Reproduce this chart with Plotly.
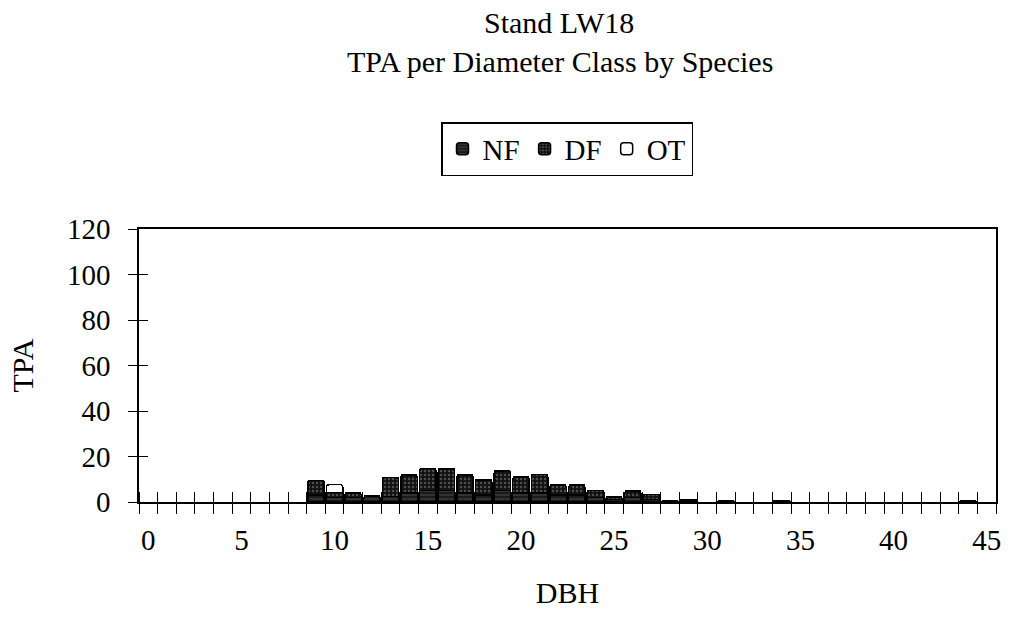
import plotly.graph_objects as go

# Diameter classes (inches) and trees per acre by species
dbh = [9, 10, 11, 12, 13, 14, 15, 16, 17, 18, 19, 20, 21, 22, 23, 24, 25, 26, 27, 28, 29, 31, 34, 44]
nf = [3.0, 2.0, 2.0, 2.6, 2.5, 4.0, 5.0, 5.0, 4.0, 3.0, 5.0, 4.0, 4.0, 3.0, 3.0, 2.0, 1.0, 2.0, 1.0, 0.6, 0.0, 0.6, 0.0, 0.6]
df = [6.5, 2.2, 2.0, 0.0, 8.2, 7.8, 9.8, 9.4, 7.8, 6.6, 8.7, 7.1, 8.2, 4.4, 4.4, 3.1, 1.2, 2.8, 2.4, 0.0, 0.8, 0.0, 0.6, 0.0]
ot = [0.0, 3.5, 0, 0, 0, 0, 0, 0, 0, 0, 0, 0, 0, 0, 0, 0, 0, 0, 0, 0, 0, 0, 0, 0]

x_labels = list(range(0, 46, 5))
y_ticks = list(range(0, 121, 20))
n_classes = 46

FONT = "Liberation Serif, Times New Roman, serif"

fig = go.Figure()

fig.add_trace(go.Bar(
    x=dbh, y=nf, name="NF", width=0.88,
    marker=dict(color="#1a1a1a", line=dict(color="black", width=1.5),
                pattern=dict(shape="-", fgcolor="#7a7a7a", size=4, solidity=0.25)),
))
fig.add_trace(go.Bar(
    x=dbh, y=df, name="DF", width=0.88,
    marker=dict(color="#111111", line=dict(color="black", width=1.5),
                pattern=dict(shape=".", fgcolor="#8a8a8a", size=4, solidity=0.3)),
))
fig.add_trace(go.Bar(
    x=dbh, y=ot, name="OT", width=0.88,
    marker=dict(color="white", line=dict(color="black", width=1.5)),
))

# empty trace so the overlay axes (inner half of the crossing ticks) are drawn
fig.add_trace(go.Scatter(x=[], y=[], xaxis="x2", yaxis="y2", showlegend=False))

boundaries = [k - 0.5 for k in range(n_classes + 1)]

fig.update_layout(
    width=1010, height=619,
    paper_bgcolor="white", plot_bgcolor="white",
    barmode="stack", barcornerradius=3,
    font=dict(family=FONT, size=29, color="black"),
    margin=dict(l=139, r=9, t=229, b=117),
    showlegend=True,
    legend=dict(
        orientation="h", x=567 / 1010, xref="container", xanchor="center",
        y=1 - 122 / 619, yref="container", yanchor="top",
        bordercolor="black", borderwidth=1.5,
        font=dict(family=FONT, size=29), traceorder="normal",
        itemwidth=30, tracegroupgap=0,
    ),
    xaxis=dict(
        range=[-0.5, n_classes - 0.5], tickmode="array", tickvals=x_labels,
        ticks="", showgrid=False, zeroline=False,
        showline=True, linecolor="black", linewidth=1.5, mirror=True,
        ticklabelstandoff=11,
        minor=dict(tickmode="array", tickvals=boundaries, ticks="outside",
                   ticklen=10, tickwidth=1.3, tickcolor="black", showgrid=False),
        title=dict(text="DBH", standoff=27, font=dict(size=30)),
    ),
    yaxis=dict(
        range=[0, 120], tickmode="array", tickvals=y_ticks,
        ticks="outside", ticklen=9, tickwidth=1.3, tickcolor="black",
        showgrid=False, zeroline=False,
        showline=True, linecolor="black", linewidth=1.5, mirror=True,
        ticklabelstandoff=12,
        title=dict(text="TPA", standoff=24, font=dict(size=30)),
    ),
    xaxis2=dict(
        overlaying="x", anchor="y2", side="bottom",
        range=[-0.5, n_classes - 0.5], showticklabels=False, showline=False,
        showgrid=False, zeroline=False, ticks="", tickvals=[],
        minor=dict(tickmode="array", tickvals=boundaries, ticks="inside",
                   ticklen=10, tickwidth=1.3, tickcolor="black", showgrid=False),
    ),
    yaxis2=dict(
        overlaying="y", anchor="x2", side="left",
        range=[0, 120], tickmode="array", tickvals=y_ticks,
        ticks="inside", ticklen=9, tickwidth=1.3, tickcolor="black",
        showticklabels=False, showline=False, showgrid=False, zeroline=False,
    ),
    annotations=[
        dict(text="Stand LW18", xref="paper", yref="paper",
             x=(561 - 139) / 862, y=1 + (229 - 22) / 273, xanchor="center", yanchor="middle",
             showarrow=False, font=dict(family=FONT, size=30)),
        dict(text="TPA per Diameter Class by Species", xref="paper", yref="paper",
             x=(562 - 139) / 862, y=1 + (229 - 61) / 273, xanchor="center", yanchor="middle",
             showarrow=False, font=dict(family=FONT, size=30)),
    ],
)

fig.write_html("out.html")
